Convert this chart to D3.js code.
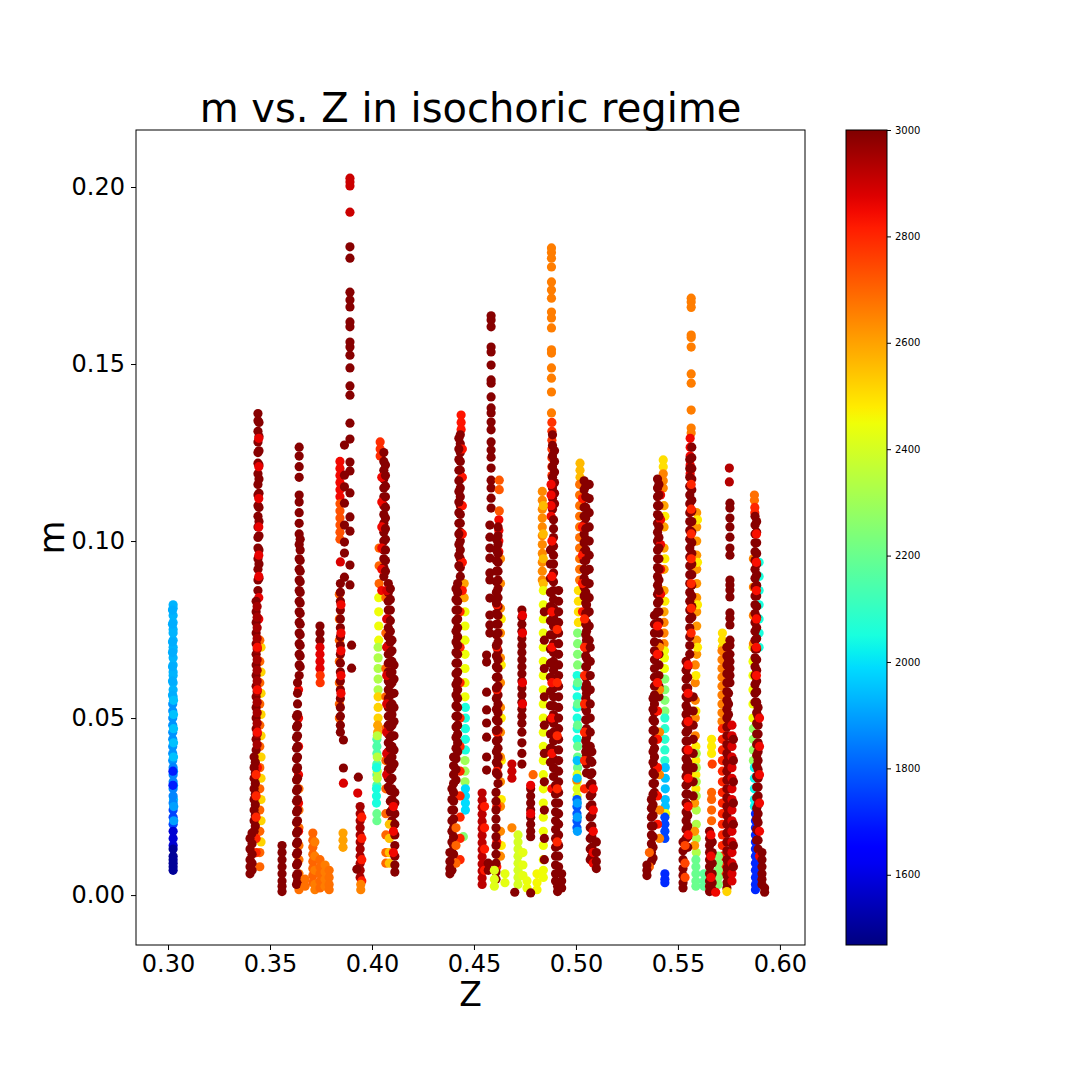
<!DOCTYPE html>
<html>
<head>
<meta charset="utf-8">
<title>m vs. Z in isochoric regime</title>
<script src="https://cdnjs.cloudflare.com/ajax/libs/d3/7.8.5/d3.min.js"></script>
<style>
  body { margin: 0; background: #fff; }
  text { font-family: "DejaVu Sans", sans-serif; fill: #000; }
</style>
</head>
<body>
<svg width="1080" height="1080"></svg>
<script>
// ticks and ranges
const zTicks = [0.30, 0.35, 0.40, 0.45, 0.50, 0.55, 0.60];
const mTicks = [0.00, 0.05, 0.10, 0.15, 0.20];
const tTicks = [1600, 1800, 2000, 2200, 2400, 2600, 2800, 3000];
const zRange = [0.2843, 0.6123];
const mRange = [-0.0141, 0.2161];
const tRange = [1468, 3000];

// each strip: [Z, temperature, [m values]]
const stripsZ030 = [
  [0.3025, 1930, [0.082,0.081,0.079,0.077,0.075,0.074,0.072,0.070,0.069,0.067,0.065,0.063,0.062,0.060,0.058,0.056]],
  [0.3022, 1920, [0.0805,0.0765,0.0715,0.0685,0.0645,0.0605,0.0565]],
  [0.3023, 1880, [0.054,0.052,0.050,0.048,0.046,0.044,0.042,0.040,0.038]],
  [0.3027, 1950, [0.055,0.051,0.047,0.043,0.039,0.035,0.031,0.027]],
  [0.3025, 1860, [0.036,0.034,0.032,0.030,0.028,0.026]],
  [0.3024, 1700, [0.035,0.031]],
  [0.3025, 1760, [0.024,0.022,0.020]],
  [0.3028, 1900, [0.025,0.021]],
  [0.3025, 1580, [0.018,0.016,0.014]],
  [0.3025, 1500, [0.013,0.011,0.010,0.009,0.008,0.007]]
];

const stripsZ034 = [
  [0.3456, 2520, [0.070,0.063,0.057,0.051,0.045,0.039,0.033,0.027,0.021,0.015]],
  [0.3450, 2700, [0.072,0.066,0.060,0.054,0.048,0.042,0.036,0.030,0.024,0.018,0.012,0.008]],
  [0.3441, 2990, [0.136,0.134,0.131,0.128,0.125,0.122,0.119,0.116,0.113,0.110,0.107,0.104,0.101,0.098,0.095,0.092,0.089,0.086]],
  [0.3446, 2990, [0.1335,0.1295,0.1255,0.1215,0.1175,0.1135,0.1095,0.1055,0.1015,0.0975,0.0935,0.0895]],
  [0.3445, 2860, [0.129,0.121,0.112,0.104,0.096,0.090,0.084,0.078]],
  [0.3432, 2990, [0.083,0.080,0.077,0.074,0.071,0.068,0.065,0.062,0.059,0.056,0.053,0.050,0.047,0.044,0.041]],
  [0.3437, 2950, [0.0815,0.0785,0.0755,0.0725,0.0695,0.0665,0.0635,0.0605,0.0575,0.0545,0.0515,0.0485,0.0455,0.0425]],
  [0.3438, 2840, [0.070,0.058,0.046,0.036]],
  [0.3422, 2990, [0.039,0.036,0.033,0.030,0.027,0.024,0.021,0.018]],
  [0.3428, 2990, [0.0375,0.0345,0.0315,0.0285,0.0255,0.0225,0.0195]],
  [0.3432, 2800, [0.034,0.028,0.022,0.016,0.012]],
  [0.3402, 2990, [0.016,0.013,0.010,0.008,0.006]],
  [0.3412, 2990, [0.0175,0.0145,0.0115,0.0090,0.0070]],
  [0.3559, 2990, [0.014,0.012,0.010,0.008,0.006,0.004,0.0025,0.001]]
];

const stripsZ036 = [
  [0.3643, 2990, [0.1265,0.124,0.121,0.118,0.113,0.111,0.108,0.105,0.102,0.099,0.095,0.092,0.089,0.086,0.083,0.080,0.077,0.074,0.071,0.068,0.065,0.062]],
  [0.3648, 2990, [0.1005,0.0975,0.0945,0.0915,0.0885,0.0855,0.0825,0.0795,0.0765,0.0735,0.0705,0.0675,0.0645]],
  [0.3642, 2680, [0.030,0.024,0.019,0.014,0.010,0.006,0.003,0.0015]],
  [0.3640, 2850, [0.058,0.050,0.042,0.034,0.026,0.018]],
  [0.3635, 2990, [0.060,0.057,0.054,0.051,0.048,0.045,0.042,0.039,0.036,0.033,0.030,0.027,0.024,0.021,0.018,0.015,0.012,0.009,0.006,0.004]],
  [0.3630, 2990, [0.0505,0.0475,0.0445,0.0415,0.0385,0.0355,0.0325,0.0295,0.0265,0.0235,0.0205,0.0175,0.0145,0.0115,0.0085,0.0055,0.0030]],
  [0.3745, 2990, [0.076,0.074,0.072]],
  [0.3745, 2870, [0.070,0.068,0.066,0.064]],
  [0.3746, 2780, [0.062,0.060]],
  [0.3672, 2680, [0.0045,0.0025]],
  [0.3710, 2700, [0.0175,0.0155,0.0135,0.0115,0.0095,0.0075,0.0055,0.0035]],
  [0.3720, 2660, [0.0150,0.0110,0.0070,0.0030,0.0015]],
  [0.3745, 2690, [0.0100,0.0080,0.0060,0.0040,0.0020]],
  [0.3770, 2660, [0.0085,0.0065,0.0045,0.0025]],
  [0.3790, 2680, [0.0070,0.0050,0.0030,0.0015]],
  [0.3858, 2600, [0.0175,0.0155,0.0135]]
];

const stripsZ038 = [
  [0.3843, 2850, [0.1225,0.1205,0.1185,0.1165,0.1145,0.1125]],
  [0.3843, 2730, [0.1105,0.1085,0.1065,0.1045,0.1025,0.1005]],
  [0.3892, 2900, [0.2025,0.2014,0.2003,0.1929]],
  [0.3892, 2990, [0.1831,0.1799,0.1703,0.1681,0.1661,0.1619,0.1605,0.1562,0.1548,0.1525,0.1489,0.1438,0.1412,0.1333,0.1288,0.1223,0.1198,0.1136,0.1068,0.1028,0.0932,0.0876]],
  [0.3865, 2990, [0.1271,0.1186,0.1153,0.1107,0.1045,0.0997,0.0966,0.0898]],
  [0.3845, 2880, [0.0941]],
  [0.3900, 2990, [0.0706,0.0641]],
  [0.3840, 2700, [0.0850,0.0780,0.0720,0.0660,0.0600,0.0540,0.0500]],
  [0.3845, 2990, [0.0880,0.0855,0.0830,0.0805,0.0780,0.0755,0.0730,0.0705,0.0680,0.0655,0.0630,0.0605,0.0580,0.0555,0.0530,0.0505,0.0480,0.0460]],
  [0.3848, 2850, [0.0820,0.0740,0.0690,0.0620,0.0570]],
  [0.3860, 2990, [0.0438,0.0359]],
  [0.3860, 2880, [0.0316]],
  [0.3933, 2990, [0.0333]],
  [0.3930, 2880, [0.0288]],
  [0.3942, 2950, [0.0250,0.0230,0.0210,0.0190,0.0170,0.0150,0.0130,0.0110,0.0090,0.0070,0.0050]],
  [0.3950, 2820, [0.0220,0.0160,0.0100,0.0040]],
  [0.3945, 2650, [0.0030,0.0015]],
  [0.3926, 2990, [0.0073]]
];

const stripsZ040 = [
  [0.4035, 2700, [0.0980,0.0930,0.0880]],
  [0.4033, 2450, [0.0840,0.0800,0.0760,0.0720]],
  [0.4030, 2330, [0.0700,0.0670,0.0640,0.0610,0.0580]],
  [0.4030, 2520, [0.0560,0.0530,0.0500]],
  [0.4028, 2600, [0.0480,0.0460]],
  [0.4024, 2150, [0.0440,0.0420,0.0400,0.0370,0.0340,0.0310]],
  [0.4026, 2350, [0.0450,0.0390,0.0350,0.0330]],
  [0.4022, 2050, [0.0360,0.0300,0.0280,0.0260]],
  [0.4024, 2200, [0.0230,0.0210]],
  [0.4040, 2790, [0.1280,0.1260,0.1240]],
  [0.4058, 2990, [0.1250,0.1225,0.1200,0.1175,0.1150,0.1125,0.1100,0.1075,0.1050,0.1025,0.1000,0.0975,0.0950,0.0925,0.0900]],
  [0.4048, 2850, [0.1180,0.1110,0.1040,0.0980,0.0920,0.0860]],
  [0.4066, 2990, [0.1215,0.1185,0.1155,0.1125,0.1095,0.1065,0.1035,0.1005,0.0975,0.0945,0.0915]],
  [0.4068, 2700, [0.0840,0.0740,0.0640,0.0560,0.0470,0.0380,0.0300,0.0230,0.0170,0.0120,0.0090]],
  [0.4080, 2990, [0.0880,0.0855,0.0830,0.0805,0.0780,0.0755,0.0730,0.0705,0.0680,0.0655,0.0630,0.0605,0.0580,0.0555,0.0530,0.0505,0.0480,0.0455,0.0430,0.0405,0.0380,0.0355,0.0330,0.0305]],
  [0.4072, 2880, [0.0860,0.0780,0.0700,0.0620,0.0540,0.0460,0.0400,0.0340]],
  [0.4090, 2990, [0.0865,0.0835,0.0805,0.0775,0.0745,0.0715,0.0685,0.0655,0.0625,0.0595,0.0565,0.0535,0.0505,0.0475,0.0445,0.0415,0.0385,0.0355,0.0325,0.0295,0.0265,0.0235]],
  [0.4098, 2990, [0.0720,0.0690,0.0660,0.0630,0.0600,0.0570,0.0540,0.0510,0.0480,0.0450,0.0420,0.0390,0.0360,0.0330,0.0300,0.0270,0.0240,0.0210]],
  [0.4108, 2990, [0.0650,0.0610,0.0570,0.0530,0.0490,0.0450,0.0410,0.0370]],
  [0.4085, 2550, [0.0200,0.0160,0.0120,0.0090]],
  [0.4112, 2990, [0.0290,0.0260,0.0230,0.0200,0.0170,0.0140,0.0110,0.0085,0.0065]],
  [0.4105, 2850, [0.0250,0.0180,0.0120]]
];

const stripsZ044 = [
  [0.4452, 2600, [0.0880,0.0840]],
  [0.4456, 2450, [0.0800,0.0760,0.0720,0.0680,0.0640,0.0600,0.0560]],
  [0.4458, 2050, [0.0530,0.0500,0.0470,0.0440,0.0410]],
  [0.4456, 2300, [0.0380,0.0350,0.0320]],
  [0.4458, 1990, [0.0300,0.0280,0.0260,0.0240]],
  [0.4448, 2250, [0.0165]],
  [0.4437, 2830, [0.1356,0.1335,0.1315]],
  [0.4433, 2990, [0.1300,0.1275,0.1250,0.1225,0.1200,0.1175,0.1150,0.1125,0.1100,0.1075,0.1050,0.1025,0.1000,0.0975,0.0950,0.0925,0.0900]],
  [0.4443, 2830, [0.1260,0.1180,0.1100,0.1020,0.0940,0.0860]],
  [0.4426, 2990, [0.1290,0.1260,0.1230,0.1200,0.1170,0.1140,0.1110,0.1080,0.1050,0.1020,0.0990,0.0960,0.0930]],
  [0.4432, 2800, [0.0800,0.0700,0.0600,0.0500,0.0420,0.0350,0.0280,0.0220,0.0160,0.0100]],
  [0.4420, 2990, [0.0880,0.0855,0.0830,0.0805,0.0780,0.0755,0.0730,0.0705,0.0680,0.0655,0.0630,0.0605,0.0580,0.0555,0.0530,0.0505,0.0480,0.0455,0.0430,0.0405]],
  [0.4412, 2990, [0.0865,0.0835,0.0805,0.0775,0.0745,0.0715,0.0685,0.0655,0.0625,0.0595,0.0565,0.0535,0.0505,0.0475,0.0445,0.0415,0.0385,0.0355,0.0325]],
  [0.4400, 2990, [0.0390,0.0365,0.0340,0.0315,0.0290,0.0265,0.0240,0.0215,0.0190,0.0165,0.0140,0.0115,0.0090]],
  [0.4392, 2990, [0.0300,0.0270,0.0240,0.0210,0.0180,0.0150,0.0120,0.0090,0.0070]],
  [0.4412, 2700, [0.0190,0.0140,0.0090]],
  [0.4382, 2990, [0.0120,0.0095,0.0075,0.0060]]
];

const stripsZ046 = [
  [0.4584, 2990, [0.1636,0.1624,0.1605,0.1548,0.1534,0.1497,0.1455,0.1446,0.1407,0.1376,0.1362,0.1336,0.1314,0.1280,0.1257,0.1237,0.1206,0.1172,0.1150,0.1121,0.1093]],
  [0.4578, 2990, [0.1045,0.1011,0.0980,0.0952,0.0910,0.0890,0.0839,0.0791,0.0763,0.0740]],
  [0.4562, 2990, [0.0678,0.0658,0.0573,0.0523,0.0486,0.0446,0.0390,0.0353]],
  [0.4540, 2920, [0.0288,0.0268,0.0248,0.0228,0.0208,0.0188,0.0168,0.0148,0.0128,0.0108,0.0088,0.0068,0.0048,0.0030]],
  [0.4552, 2820, [0.0250,0.0190,0.0130,0.0070]],
  [0.4570, 2990, [0.0090,0.0070]],
  [0.4634, 2480, [0.0780,0.0650,0.0500,0.0380,0.0270,0.0140]],
  [0.4630, 2640, [0.0950,0.0880,0.0810,0.0740,0.0670,0.0600,0.0530,0.0460,0.0390,0.0320,0.0250,0.0180,0.0110]],
  [0.4624, 2720, [0.1172,0.1145,0.1085]],
  [0.4622, 2850, [0.1060,0.1030,0.1000,0.0970]],
  [0.4618, 2990, [0.1040,0.1015,0.0990,0.0965,0.0940,0.0915,0.0890,0.0865,0.0840,0.0815,0.0790,0.0765,0.0740,0.0715,0.0690,0.0665,0.0640,0.0615,0.0590,0.0565,0.0540,0.0515,0.0490,0.0465,0.0440,0.0415,0.0390,0.0365,0.0340,0.0315]],
  [0.4612, 2820, [0.0820,0.0700,0.0580,0.0460,0.0350,0.0250,0.0150,0.0080]],
  [0.4610, 2990, [0.1005,0.0975,0.0945,0.0915,0.0885,0.0855,0.0825,0.0795,0.0765,0.0735,0.0705,0.0675,0.0645,0.0615,0.0585,0.0555,0.0525,0.0495,0.0465,0.0435,0.0405,0.0375,0.0345]],
  [0.4608, 2990, [0.0290,0.0265,0.0240,0.0215,0.0190,0.0165,0.0140,0.0115,0.0090,0.0065,0.0045]]
];

const stripsZ047 = [
  [0.4600, 2420, [0.0070,0.0045,0.0025]],
  [0.4652, 2430, [0.0060,0.0035]],
  [0.4716, 2400, [0.0170,0.0150,0.0130,0.0110,0.0090,0.0070,0.0050,0.0030]],
  [0.4740, 2430, [0.0120,0.0085,0.0055]],
  [0.4760, 2440, [0.0040,0.0020]],
  [0.4809, 2460, [0.0060,0.0035,0.0015]],
  [0.4700, 2990, [0.0008]],
  [0.4778, 2990, [0.0006]],
  [0.4686, 2650, [0.0190]],
  [0.4735, 2990, [0.0805,0.0785,0.0765,0.0745,0.0725,0.0705,0.0685,0.0665,0.0645,0.0625,0.0605,0.0585,0.0565,0.0545,0.0525,0.0505,0.0485,0.0460,0.0430,0.0400,0.0370]],
  [0.4738, 2860, [0.0790,0.0740,0.0600,0.0540]],
  [0.4778, 2990, [0.0300,0.0280,0.0260,0.0240,0.0220,0.0200,0.0180,0.0165]],
  [0.4778, 2860, [0.0310,0.0230]],
  [0.4686, 2900, [0.0370,0.0350,0.0330]],
  [0.4790, 2700, [0.0340]]
];

const stripsZ049 = [
  [0.4880, 2660, [0.1828,0.1815,0.1799,0.1774,0.1732,0.1709,0.1686,0.1647,0.1630,0.1602,0.1540,0.1531,0.1489,0.1460,0.1421,0.1362]],
  [0.4882, 2780, [0.1335,0.1310,0.1285,0.1260,0.1235,0.1210,0.1185]],
  [0.4885, 2990, [0.1300,0.1270,0.1240,0.1210,0.1180,0.1150,0.1120,0.1090]],
  [0.4895, 2990, [0.1255,0.1225,0.1195,0.1165,0.1135,0.1105]],
  [0.4878, 2850, [0.1160,0.1130,0.1100,0.1070]],
  [0.4835, 2640, [0.1140,0.1115,0.1090,0.1065,0.1040,0.1015,0.0990,0.0965,0.0940,0.0915,0.0890]],
  [0.4840, 2560, [0.1100,0.1020,0.0950,0.0880]],
  [0.4840, 2450, [0.0860,0.0820,0.0780,0.0740,0.0700,0.0660,0.0620,0.0580,0.0540,0.0500,0.0460,0.0420,0.0380,0.0340,0.0300,0.0260,0.0220,0.0180,0.0140,0.0100,0.0070,0.0050]],
  [0.4845, 2990, [0.0800,0.0720,0.0640,0.0560,0.0480,0.0400,0.0320,0.0240,0.0160,0.0100]],
  [0.4890, 2990, [0.1060,0.1035,0.1010,0.0985,0.0960,0.0935,0.0910,0.0885,0.0860,0.0835,0.0810,0.0785,0.0760,0.0735,0.0710,0.0685,0.0660,0.0635,0.0610,0.0585,0.0560,0.0535,0.0510,0.0485,0.0460,0.0435,0.0410,0.0385,0.0360,0.0335]],
  [0.4875, 2990, [0.0975,0.0935,0.0895,0.0855,0.0815,0.0775,0.0735,0.0695,0.0655,0.0615,0.0575,0.0535,0.0495,0.0455,0.0415,0.0375]],
  [0.4882, 2840, [0.1000,0.0900,0.0800,0.0700,0.0600,0.0500,0.0400,0.0300]],
  [0.4900, 2990, [0.0310,0.0285,0.0260,0.0235,0.0210,0.0185,0.0160,0.0135,0.0110,0.0085,0.0060,0.0040]],
  [0.4910, 2990, [0.0025,0.0010]],
  [0.4915, 2990, [0.0860,0.0830,0.0800,0.0770,0.0740,0.0710,0.0680,0.0650,0.0620,0.0590,0.0560,0.0530,0.0500,0.0470,0.0440,0.0410,0.0380,0.0350,0.0320,0.0290,0.0260,0.0230,0.0200,0.0170,0.0140,0.0110,0.0080]],
  [0.4930, 2990, [0.0060,0.0040,0.0020]],
  [0.4908, 2800, [0.0750,0.0600,0.0450,0.0300,0.0150]]
];

const stripsZ050 = [
  [0.5020, 2560, [0.1220,0.1200,0.1180]],
  [0.5018, 2680, [0.1160,0.1130,0.1100,0.1070,0.1040,0.1010,0.0980,0.0950,0.0920,0.0890]],
  [0.5012, 2500, [0.0860,0.0830,0.0800,0.0770]],
  [0.5008, 2250, [0.0740,0.0710,0.0680,0.0650]],
  [0.5006, 2050, [0.0620,0.0590,0.0560,0.0530,0.0500,0.0470,0.0440]],
  [0.5008, 2200, [0.0600,0.0540,0.0480,0.0420,0.0390,0.0360]],
  [0.5006, 2420, [0.0340,0.0320,0.0300,0.0280]],
  [0.5004, 2650, [0.0325]],
  [0.5006, 1950, [0.0380,0.0330]],
  [0.5005, 1790, [0.0270,0.0250,0.0230,0.0210,0.0190]],
  [0.5007, 1900, [0.0260,0.0220,0.0180]],
  [0.5040, 2990, [0.1170,0.1145,0.1120,0.1095,0.1070,0.1045,0.1020,0.0995,0.0970,0.0945,0.0920,0.0895,0.0870,0.0845]],
  [0.5032, 2820, [0.1120,0.1040,0.0960,0.0880,0.0800]],
  [0.5065, 2990, [0.1160,0.1120,0.1080,0.1040,0.1000,0.0960,0.0920,0.0880,0.0840,0.0800,0.0760,0.0720]],
  [0.5048, 2990, [0.1155,0.1125,0.1095,0.1065,0.1035,0.1005,0.0975,0.0945,0.0915,0.0885,0.0855,0.0825,0.0795,0.0765,0.0735,0.0705,0.0675,0.0645,0.0615,0.0585,0.0555,0.0525,0.0495,0.0465,0.0435,0.0405]],
  [0.5052, 2990, [0.0820,0.0795,0.0770,0.0745,0.0720,0.0695,0.0670,0.0645,0.0620,0.0595,0.0570,0.0545,0.0520,0.0495,0.0470,0.0445,0.0420,0.0395,0.0370,0.0345]],
  [0.5042, 2800, [0.0780,0.0700,0.0620,0.0540,0.0460,0.0380,0.0300]],
  [0.5070, 2990, [0.0700,0.0660,0.0620,0.0580,0.0540,0.0500,0.0460,0.0420,0.0380,0.0340,0.0310,0.0280,0.0250,0.0220,0.0190,0.0160,0.0130,0.0100]],
  [0.5078, 2990, [0.0405,0.0375,0.0345,0.0315,0.0285,0.0255,0.0225,0.0195,0.0165,0.0135,0.0110]],
  [0.5085, 2850, [0.0300,0.0240,0.0180,0.0120,0.0090]],
  [0.5100, 2990, [0.0150,0.0120,0.0095,0.0075]]
];

const stripsZ054 = [
  [0.5428, 2500, [0.1229,0.1210]],
  [0.5428, 2650, [0.1190,0.1170,0.1150]],
  [0.5436, 2480, [0.1070,0.0950,0.0830]],
  [0.5432, 2600, [0.1100,0.1040,0.0980,0.0920,0.0860,0.0800]],
  [0.5432, 2650, [0.0770,0.0740,0.0710]],
  [0.5434, 2450, [0.0690,0.0670,0.0640]],
  [0.5436, 2250, [0.0610,0.0580,0.0550,0.0520]],
  [0.5436, 2080, [0.0500,0.0470,0.0440,0.0410,0.0380]],
  [0.5438, 1950, [0.0360,0.0330,0.0300,0.0270,0.0250]],
  [0.5440, 2450, [0.0230]],
  [0.5436, 1760, [0.0220,0.0200,0.0180,0.0160]],
  [0.5436, 1720, [0.0060,0.0045,0.0035]],
  [0.5400, 2990, [0.1175,0.1150,0.1125,0.1100,0.1075,0.1050,0.1025,0.1000,0.0975,0.0950,0.0925,0.0900,0.0875,0.0850,0.0825,0.0800]],
  [0.5415, 2850, [0.1130,0.1060,0.0990,0.0920,0.0850]],
  [0.5407, 2990, [0.1160,0.1130,0.1100,0.1070,0.1040,0.1010,0.0980,0.0950,0.0920,0.0890,0.0860,0.0830,0.0800,0.0770,0.0740,0.0710,0.0680,0.0650,0.0620,0.0590,0.0560]],
  [0.5410, 2650, [0.0700,0.0580,0.0460,0.0340,0.0240,0.0160]],
  [0.5385, 2990, [0.0790,0.0765,0.0740,0.0715,0.0690,0.0665,0.0640,0.0615,0.0590,0.0565,0.0540,0.0515,0.0490,0.0465,0.0440,0.0415,0.0390,0.0365,0.0340,0.0315,0.0290]],
  [0.5400, 2830, [0.0760,0.0680,0.0600,0.0520,0.0440,0.0360,0.0280,0.0200]],
  [0.5378, 2990, [0.0555,0.0525,0.0495,0.0465,0.0435,0.0405,0.0375,0.0345,0.0315,0.0285,0.0255,0.0225,0.0195,0.0165,0.0135,0.0105]],
  [0.5370, 2990, [0.0270,0.0245,0.0220,0.0195,0.0170,0.0145,0.0120,0.0095]],
  [0.5360, 2700, [0.0120,0.0080]],
  [0.5348, 2990, [0.0085,0.0070,0.0055]]
];

const stripsZ056 = [
  [0.5565, 2660, [0.1686,0.1675,0.1660,0.1582,0.1575,0.1548,0.1472,0.1446,0.1370,0.1319,0.1305]],
  [0.5592, 2620, [0.1080,0.1040,0.1000,0.0960,0.0920,0.0880,0.0840,0.0800,0.0760,0.0720,0.0680]],
  [0.5596, 2480, [0.1060,0.0940,0.0820,0.0700]],
  [0.5585, 2650, [0.0650,0.0600,0.0550,0.0500,0.0450]],
  [0.5588, 2480, [0.0620,0.0520,0.0420,0.0380,0.0340,0.0300]],
  [0.5590, 2330, [0.0400,0.0360,0.0320,0.0280,0.0240,0.0200,0.0160,0.0120]],
  [0.5588, 2200, [0.0100,0.0080,0.0060,0.0040,0.0025]],
  [0.5582, 2620, [0.0260,0.0180,0.0140]],
  [0.5560, 2850, [0.1290,0.1265,0.1240,0.1215,0.1190]],
  [0.5558, 2990, [0.1230,0.1205,0.1180,0.1155,0.1130,0.1105,0.1080,0.1055,0.1030,0.1005,0.0980,0.0955,0.0930,0.0905,0.0880,0.0855,0.0830,0.0805,0.0780,0.0755,0.0730,0.0705,0.0680]],
  [0.5568, 2990, [0.1265,0.1235,0.1205,0.1175,0.1145,0.1115,0.1085,0.1055,0.1025,0.0995,0.0965,0.0935,0.0905,0.0875,0.0845,0.0815,0.0785]],
  [0.5565, 2800, [0.1160,0.1090,0.1020,0.0950,0.0880,0.0810,0.0740]],
  [0.5575, 2990, [0.0560,0.0520,0.0480,0.0440,0.0400,0.0360,0.0320,0.0280]],
  [0.5540, 2990, [0.0660,0.0635,0.0610,0.0585,0.0560,0.0535,0.0510,0.0485,0.0460,0.0435,0.0410,0.0385,0.0360,0.0335,0.0310,0.0285,0.0260,0.0235,0.0210,0.0185,0.0160]],
  [0.5548, 2990, [0.0645,0.0615,0.0585,0.0555,0.0525,0.0495,0.0465,0.0435,0.0405,0.0375,0.0345,0.0315,0.0285,0.0255,0.0225,0.0195,0.0165,0.0135]],
  [0.5550, 2840, [0.0650,0.0570,0.0490,0.0410,0.0330,0.0250,0.0170]],
  [0.5525, 2990, [0.0150,0.0125,0.0100,0.0075,0.0055,0.0035,0.0020]],
  [0.5535, 2750, [0.0140,0.0090,0.0050]]
];

const stripsZ057 = [
  [0.5718, 2500, [0.0740,0.0720,0.0700]],
  [0.5716, 2660, [0.0690,0.0665,0.0640,0.0615,0.0590,0.0565,0.0540,0.0515,0.0490]],
  [0.5718, 2800, [0.0470,0.0440,0.0410,0.0380,0.0350,0.0320,0.0290,0.0260,0.0230,0.0200,0.0170,0.0140,0.0110,0.0080,0.0060]],
  [0.5752, 2930, [0.1206,0.1167]],
  [0.5755, 2990, [0.1107,0.1093,0.1065,0.1040,0.1011,0.0980,0.0960,0.0890,0.0876,0.0862,0.0842,0.0797,0.0782,0.0763,0.0720,0.0705,0.0680,0.0660,0.0640,0.0620,0.0600]],
  [0.5740, 2990, [0.0700,0.0675,0.0650,0.0625,0.0600,0.0575,0.0550,0.0525,0.0500,0.0475,0.0450,0.0425,0.0400,0.0375,0.0350,0.0325,0.0300,0.0275,0.0250,0.0225,0.0200,0.0175,0.0150,0.0125,0.0100,0.0075,0.0055,0.0035,0.0020]],
  [0.5748, 2990, [0.0660,0.0630,0.0600,0.0570,0.0540,0.0510,0.0480,0.0450,0.0420,0.0390,0.0360,0.0330,0.0300,0.0270,0.0240,0.0210,0.0180,0.0150,0.0120,0.0090,0.0060]],
  [0.5765, 2880, [0.0480,0.0450,0.0420,0.0390,0.0360,0.0330,0.0300,0.0270,0.0240,0.0210,0.0180,0.0150,0.0120,0.0090,0.0060,0.0040]],
  [0.5772, 2990, [0.0440,0.0380,0.0320,0.0260,0.0200,0.0140,0.0080]],
  [0.5665, 2480, [0.0440,0.0420,0.0400]],
  [0.5668, 2760, [0.0370]],
  [0.5665, 2700, [0.0290,0.0270,0.0240,0.0210]],
  [0.5628, 2180, [0.0060,0.0040,0.0025]],
  [0.5698, 2250, [0.0110,0.0090,0.0070,0.0050,0.0030]],
  [0.5655, 2990, [0.0180,0.0160,0.0140,0.0120,0.0100,0.0080,0.0060,0.0040,0.0025,0.0010]],
  [0.5668, 2990, [0.0150,0.0120,0.0090,0.0060,0.0035,0.0015]],
  [0.5662, 2850, [0.0170,0.0110,0.0050]],
  [0.5685, 2850, [0.0008]],
  [0.5740, 2520, [0.0010]]
];

const stripsZ059 = [
  [0.5898, 2050, [0.0940,0.0900,0.0860,0.0820,0.0780,0.0740,0.0700]],
  [0.5868, 2450, [0.0700,0.0660,0.0620,0.0580,0.0540,0.0500]],
  [0.5870, 2280, [0.0470,0.0440,0.0410,0.0380]],
  [0.5875, 2030, [0.0360,0.0330,0.0300,0.0270,0.0250]],
  [0.5880, 1720, [0.0230,0.0210,0.0190,0.0170,0.0150,0.0130,0.0110,0.0090,0.0070,0.0050,0.0030,0.0015]],
  [0.5875, 2680, [0.1130,0.1115]],
  [0.5877, 2800, [0.1095,0.1080]],
  [0.5870, 2650, [0.0950,0.0870,0.0790,0.0710]],
  [0.5878, 2990, [0.1070,0.1045,0.1020,0.0995,0.0970,0.0945,0.0920,0.0895,0.0870,0.0845,0.0820,0.0795,0.0770,0.0745,0.0720,0.0695,0.0670,0.0645,0.0620,0.0595,0.0570,0.0545]],
  [0.5886, 2990, [0.1055,0.1025,0.0995,0.0965,0.0935,0.0905,0.0875,0.0845,0.0815,0.0785,0.0755,0.0725,0.0695,0.0665,0.0635,0.0605,0.0575,0.0545,0.0515,0.0485,0.0455,0.0425,0.0395,0.0365,0.0335,0.0305,0.0275,0.0245,0.0215,0.0185,0.0155]],
  [0.5885, 2840, [0.1020,0.0940,0.0860,0.0780,0.0700,0.0620]],
  [0.5893, 2990, [0.0530,0.0505,0.0480,0.0455,0.0430,0.0405,0.0380,0.0355,0.0330,0.0305,0.0280,0.0255,0.0230,0.0205,0.0180,0.0155,0.0130]],
  [0.5900, 2850, [0.0500,0.0420,0.0340,0.0260,0.0180,0.0110]],
  [0.5912, 2990, [0.0120,0.0100,0.0080,0.0060,0.0045,0.0030]],
  [0.5925, 2990, [0.0020,0.0008]]
];

const strips = [].concat(stripsZ030, stripsZ034, stripsZ036, stripsZ038, stripsZ040,
  stripsZ044, stripsZ046, stripsZ047, stripsZ049, stripsZ050, stripsZ054,
  stripsZ056, stripsZ057, stripsZ059);
const points = strips.flatMap(([z, t, ms]) => ms.map(m => ({ z: z, m: m, t: t })));

// jet colormap (matplotlib segment data)
const jetR = d3.scaleLinear().domain([0, 0.35, 0.66, 0.89, 1]).range([0, 0, 1, 1, 0.5]).clamp(true);
const jetG = d3.scaleLinear().domain([0, 0.125, 0.375, 0.64, 0.91, 1]).range([0, 0, 1, 1, 0, 0]).clamp(true);
const jetB = d3.scaleLinear().domain([0, 0.11, 0.34, 0.65, 1]).range([0.5, 1, 1, 0, 0]).clamp(true);
const jet = v => d3.rgb(255 * jetR(v), 255 * jetG(v), 255 * jetB(v)).toString();

const svg = d3.select("svg");
const plot = { left: 136, right: 805, top: 130, bottom: 945 };
const bar = { left: 846, right: 887 };

const x = d3.scaleLinear().domain(zRange).range([plot.left, plot.right]);
const y = d3.scaleLinear().domain(mRange).range([plot.bottom, plot.top]);
const tNorm = d3.scaleLinear().domain(tRange).range([0, 1]).clamp(true);
const tY = d3.scaleLinear().domain(tRange).range([plot.bottom, plot.top]);

svg.append("rect").attr("width", 1080).attr("height", 1080).attr("fill", "#fff");

// points
svg.append("g").selectAll("circle").data(points).enter().append("circle")
  .attr("cx", d => x(d.z))
  .attr("cy", d => y(d.m))
  .attr("r", 4.6)
  .attr("fill", d => jet(tNorm(d.t)));

// axes
const xAxis = svg.append("g")
  .attr("transform", `translate(0,${plot.bottom})`)
  .call(d3.axisBottom(x).tickValues(zTicks).tickFormat(d3.format(".2f")).tickSizeOuter(0).tickSize(5).tickPadding(5));
const yAxis = svg.append("g")
  .attr("transform", `translate(${plot.left},0)`)
  .call(d3.axisLeft(y).tickValues(mTicks).tickFormat(d3.format(".2f")).tickSizeOuter(0).tickSize(5).tickPadding(6));
[xAxis, yAxis].forEach(a => {
  a.select(".domain").remove();
  a.selectAll(".tick line").attr("stroke", "#000").attr("stroke-width", 1);
  a.selectAll(".tick text").attr("font-size", 24).attr("font-family", "DejaVu Sans").attr("fill", "#000");
});

svg.append("rect")
  .attr("x", plot.left).attr("y", plot.top)
  .attr("width", plot.right - plot.left).attr("height", plot.bottom - plot.top)
  .attr("fill", "none").attr("stroke", "#000").attr("stroke-width", 1);

// labels
svg.append("text").attr("x", (plot.left + plot.right) / 2).attr("y", 122)
  .attr("text-anchor", "middle").attr("font-size", 40).text("m vs. Z in isochoric regime");
svg.append("text").attr("x", (plot.left + plot.right) / 2).attr("y", 1006)
  .attr("text-anchor", "middle").attr("font-size", 33).text("Z");
svg.append("text").attr("transform", `translate(64,${(plot.top + plot.bottom) / 2}) rotate(-90)`)
  .attr("text-anchor", "middle").attr("font-size", 35).text("m");

// colorbar
const grad = svg.append("defs").append("linearGradient")
  .attr("id", "jetbar").attr("x1", 0).attr("y1", 1).attr("x2", 0).attr("y2", 0);
d3.range(0, 1.0001, 0.02).forEach(v => {
  grad.append("stop").attr("offset", v).attr("stop-color", jet(v));
});
svg.append("rect")
  .attr("x", bar.left).attr("y", plot.top)
  .attr("width", bar.right - bar.left).attr("height", plot.bottom - plot.top)
  .attr("fill", "url(#jetbar)").attr("stroke", "#000").attr("stroke-width", 1);
const cAxis = svg.append("g")
  .attr("transform", `translate(${bar.right},0)`)
  .call(d3.axisRight(tY).tickValues(tTicks).tickFormat(d3.format("d")).tickSizeOuter(0).tickSize(4).tickPadding(4));
cAxis.select(".domain").remove();
cAxis.selectAll(".tick line").attr("stroke", "#000");
cAxis.selectAll(".tick text").attr("font-size", 10).attr("font-family", "DejaVu Sans").attr("fill", "#000");
</script>
</body>
</html>
